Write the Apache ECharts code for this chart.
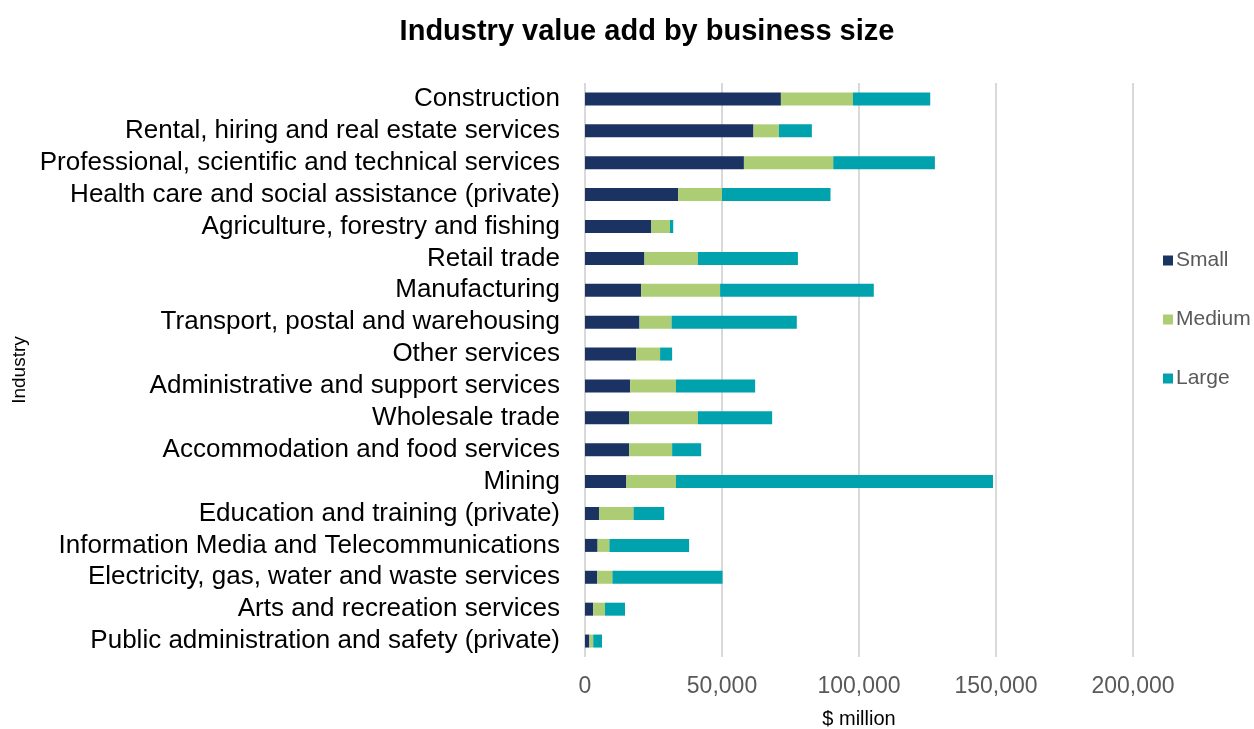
<!DOCTYPE html>
<html>
<head>
<meta charset="utf-8">
<script src="https://cdn.jsdelivr.net/npm/echarts@6/dist/echarts.min.js"></script>
<style>
  html, body { margin: 0; padding: 0; background: #fff; }
  #chart { width: 1254px; height: 729px; }
</style>
</head>
<body>
<div id="chart"></div>
<script>
// Industries, listed top to bottom
const industries = [
  'Construction',
  'Rental, hiring and real estate services',
  'Professional, scientific and technical services',
  'Health care and social assistance (private)',
  'Agriculture, forestry and fishing',
  'Retail trade',
  'Manufacturing',
  'Transport, postal and warehousing',
  'Other services',
  'Administrative and support services',
  'Wholesale trade',
  'Accommodation and food services',
  'Mining',
  'Education and training (private)',
  'Information Media and Telecommunications',
  'Electricity, gas, water and waste services',
  'Arts and recreation services',
  'Public administration and safety (private)'
];

// Value add ($ million) by business size
const small  = [71500, 61500, 58000, 34000, 24200, 21700, 20500, 19900, 18700, 16500, 16100, 16100, 15100, 5100, 4600, 4500, 3000, 1600];
const medium = [26300,  9300, 32600, 16000,  6800, 19500, 28800, 11700,  8700, 16700, 25100, 15700, 18100, 12600, 4300, 5500, 4300, 1400];
const large  = [28200, 12000, 37100, 39600,  1200, 36500, 56100, 45700,  4400, 28900, 27100, 10600, 115700, 11200, 29100, 40200, 7300, 3200];

const xTicks = { min: 0, max: 200000, interval: 50000 };

const colors = { Small: '#1B3363', Medium: '#ADCD74', Large: '#00A2AE' };
const font = 'Liberation Sans, Arial, sans-serif';

const chart = echarts.init(document.getElementById('chart'));

function barSeries(name, values) {
  return {
    name: name,
    type: 'bar',
    stack: 'total',
    data: values,
    barWidth: 13,
    itemStyle: { color: colors[name] },
    emphasis: { disabled: true }
  };
}

chart.setOption({
  animation: false,
  textStyle: { fontFamily: font },
  title: {
    text: 'Industry value add by business size',
    left: 642,
    textAlign: 'center',
    top: 12,
    textStyle: { fontSize: 29, fontWeight: 'bold', color: '#000', fontFamily: font }
  },
  legend: {
    orient: 'vertical',
    left: 1158,
    top: 245,
    itemGap: 38,
    itemWidth: 10,
    itemHeight: 10,
    icon: 'rect',
    textStyle: { fontSize: 21, color: '#595959', fontFamily: font, padding: [0, 0, 0, -2] },
    data: ['Small', 'Medium', 'Large']
  },
  grid: {
    left: 585, right: 121, top: 83, bottom: 72,
    containLabel: false,
    outerBoundsMode: 'none'
  },
  xAxis: {
    type: 'value',
    min: xTicks.min,
    max: xTicks.max,
    interval: xTicks.interval,
    name: '$ million',
    nameLocation: 'middle',
    nameGap: 52,
    nameTextStyle: { fontSize: 20, color: '#000', fontFamily: font },
    axisLine: { show: false },
    axisTick: { show: false },
    splitLine: { show: true, lineStyle: { color: '#D9D9D9', width: 2 } },
    axisLabel: {
      fontSize: 23,
      color: '#595959',
      margin: 18,
      fontFamily: font,
      formatter: v => v.toLocaleString('en-US')
    }
  },
  yAxis: {
    type: 'category',
    inverse: true,
    data: industries,
    name: 'Industry',
    nameLocation: 'middle',
    nameRotate: 90,
    nameGap: 556,
    nameTextStyle: { fontSize: 19, color: '#000', fontFamily: font },
    axisLine: { show: false },
    axisTick: { show: false },
    axisLabel: { fontSize: 26, color: '#000', margin: 25, interval: 0, fontFamily: font }
  },
  series: [
    barSeries('Small', small),
    barSeries('Medium', medium),
    barSeries('Large', large)
  ]
});
</script>
</body>
</html>
